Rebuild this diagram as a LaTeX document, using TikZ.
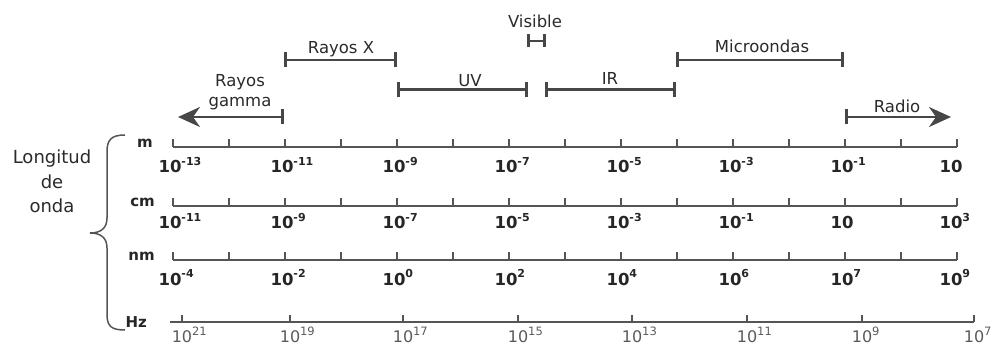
\documentclass[tikz,border=0pt]{standalone}
\usepackage{fontspec}
\setmainfont{DejaVu Sans}
\usetikzlibrary{arrows.meta}
\definecolor{bandc}{HTML}{474747}
\definecolor{axisc}{HTML}{555555}
\definecolor{numc}{HTML}{262626}
\definecolor{hzc}{HTML}{5A5A5A}
\definecolor{txtc}{HTML}{2A2A2A}
\newcommand\bex[1]{\makebox[0pt][l]{\raisebox{7.5pt}{\fontsize{11}{11}\selectfont\bfseries #1}}}
\newcommand\hex[1]{\makebox[0pt][l]{\raisebox{7pt}{\fontsize{11.5}{11.5}\selectfont #1}}}
\begin{document}
\begin{tikzpicture}[x=1pt,y=-1pt,
  bandlabel/.style={font=\fontsize{16.5}{20}\selectfont, text=txtc, anchor=base, inner sep=0},
  bandline/.style={draw=bandc, line width=2.6pt, {Bar[width=15pt]}-{Bar[width=15pt]}},
  visline/.style={draw=bandc, line width=2.6pt, {Bar[width=13pt]}-{Bar[width=13pt]}},
  gamline/.style={draw=bandc, line width=2.6pt, {Stealth[length=22pt,width=20pt,inset=7pt]}-{Bar[width=15pt]}},
  radline/.style={draw=bandc, line width=2.6pt, {Bar[width=15pt]}-{Stealth[length=22pt,width=20pt,inset=7pt]}},
  axisline/.style={draw=axisc, line width=1.4pt},
  num/.style={font=\fontsize{16.5}{16.5}\selectfont\bfseries, text=numc, anchor=base, inner sep=0},
  hznum/.style={font=\fontsize{16}{16}\selectfont, text=hzc, anchor=base, inner sep=0},
  unit/.style={font=\fontsize{15}{15}\selectfont\bfseries, text=numc, inner sep=0},
  lefttext/.style={font=\fontsize{18}{24.5}\selectfont, text=txtc, align=center, anchor=base, inner sep=0},
  bracestyle/.style={draw=axisc, line width=1.5pt}]
\useasboundingbox (0,0) rectangle (995,347);

% band end points
\coordinate (gamL) at (178,117); \coordinate (gamR) at (284,117);
\coordinate (xL) at (284,60);    \coordinate (xR) at (397,60);
\coordinate (uvL) at (397,89.5); \coordinate (uvR) at (528,89.5);
\coordinate (visL) at (527,41);  \coordinate (visR) at (546,41);
\coordinate (irL) at (545,89.5); \coordinate (irR) at (676,89.5);
\coordinate (mwL) at (676,60);   \coordinate (mwR) at (844,60);
\coordinate (radL) at (845,117); \coordinate (radR) at (951,117);

\draw[gamline] (gamL) -- (gamR);
\draw[bandline] (xL) -- (xR);
\draw[bandline] (uvL) -- (uvR);
\draw[visline] (visL) -- (visR);
\draw[bandline] (irL) -- (irR);
\draw[bandline] (mwL) -- (mwR);
\draw[radline] (radL) -- (radR);

\node[bandlabel] (visT) at (535,28) {Visible};
\node[bandlabel] (xT) at (341,54) {Rayos X};
\node[bandlabel] (mwT) at (762,53) {Microondas};
\node[bandlabel] (uvT) at (470,87) {UV};
\node[bandlabel] (irT) at (610,85) {IR};
\node[bandlabel] (gamT1) at (240,87) {Rayos};
\node[bandlabel] (gamT2) at (240,107) {gamma};
\node[bandlabel] (radT) at (897,113) {Radio};

% wavelength axes
\foreach \r/\y in {m/147, cm/206, nm/260} {
  \coordinate (\r A) at (173,\y);
  \coordinate (\r B) at (957,\y);
  \draw[axisline] (\r A) -- (\r B);
  \foreach \k in {0,...,14} \draw[axisline] ({173+56*\k},\y) -- ++(0,-8);
}

% m labels
\foreach \x/\e [count=\i] in {170/-13,282/-11,394/-9,506/-7,618/-5,730/-3,842/-1}
  \node[num] (mL\i) at (\x,173) {10\bex{\e}};
\node[num] (mL8) at (951,173) {10};
% cm labels
\foreach \x/\e [count=\i] in {170/-11,282/-9,394/-7,506/-5,618/-3,730/-1}
  \node[num] (cmL\i) at (\x,229) {10\bex{\e}};
\node[num] (cmL7) at (842,229) {10};
\node[num] (cmL8) at (951,229) {10\bex{3}};
% nm labels
\foreach \x/\e [count=\i] in {170/-4,282/-2,394/0,506/2,618/4,730/6,842/7,951/9}
  \node[num] (nmL\i) at (\x,285) {10\bex{\e}};

% Hz axis
\coordinate (hzA) at (170,322);
\coordinate (hzB) at (974,322);
\draw[axisline] (hzA) -- (hzB);
\foreach \x/\e [count=\i] in {182/21,290/19,403/17,518/15,632/13,747/11,862/9,974/7} {
  \draw[axisline] (\x,322) -- ++(0,-7);
  \node[hznum] (hzL\i) at (\x,342) {10\hex{\e}};
}

% unit labels
\node[unit, anchor=base east] (um) at (153,148) {m};
\node[unit, anchor=base east] (ucm) at (155,207) {cm};
\node[unit, anchor=base east] (unm) at (155,261) {nm};
\node[unit, anchor=base east] (uhz) at (147,327) {Hz};

% brace
\draw[bracestyle] (125,135) .. controls (111,135) and (107,140) .. (107,152)
  -- (107,218) .. controls (107,228) and (101,233) .. (90,233)
  .. controls (101,233) and (107,238) .. (107,248)
  -- (107,314) .. controls (107,326) and (111,330) .. (125,330);

\node[lefttext] (lw) at (52,213) {Longitud\\de\\onda};
\end{tikzpicture}
\end{document}
